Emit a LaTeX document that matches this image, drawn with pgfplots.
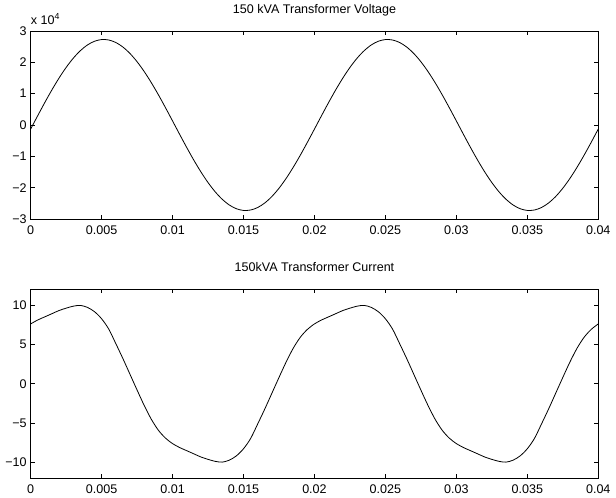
\documentclass[border=0pt]{standalone}
\usepackage{fontspec}
\setmainfont{Liberation Sans}
\usepackage{pgfplots}
\pgfplotsset{compat=1.18}

\pgfplotsset{mfig/.style={
  scale only axis, width=425.7pt,
  xmin=0, xmax=0.04,
  xtick={0,0.005,0.01,0.015,0.02,0.025,0.03,0.035,0.04},
  xticklabels={0,0.005,0.01,0.015,0.02,0.025,0.03,0.035,0.04},
  tick align=inside, major tick length=3pt,
  axis line style={black, line width=0.6pt},
  every tick/.style={black, line width=0.5pt},
  tick label style={font=\fontsize{9.4}{11}\selectfont, inner sep=0pt},
  xticklabel style={yshift=-4.8pt},
  yticklabel style={xshift=-2.8pt},
  title style={font=\fontsize{9.4}{11}\selectfont, at={(0.5,1)}, anchor=base, yshift=7.3pt, inner sep=0pt},
  scaled ticks=false, clip mode=individual,
}}

\begin{document}
\begin{tikzpicture}
\useasboundingbox (0,0) rectangle (462pt,373.5pt);

% voltage
\begin{axis}[mfig, at={(23pt,209.25pt)}, anchor=south west, height=141pt,
  ymin=-30000, ymax=30000,
  ytick={-30000,-20000,-10000,0,10000,20000,30000},
  yticklabels={−3,−2,−1,0,1,2,3},
  title={150 kVA Transformer Voltage}]
\addplot[black, line width=0.6pt, smooth] table {
t v
0 -1286
0.0005 2996
0.001 7204
0.0015 11235
0.002 14988
0.0025 18373
0.003 21305
0.0035 23713
0.004 25536
0.0045 26732
0.005 27270
0.0055 27135
0.006 26334
0.0065 24881
0.007 22817
0.0075 20191
0.008 17068
0.0085 13527
0.009 9651
0.0095 5536
0.01 1286
0.0105 -2996
0.011 -7204
0.0115 -11235
0.012 -14988
0.0125 -18373
0.013 -21305
0.0135 -23713
0.014 -25536
0.0145 -26732
0.015 -27270
0.0155 -27135
0.016 -26334
0.0165 -24881
0.017 -22817
0.0175 -20191
0.018 -17068
0.0185 -13527
0.019 -9651
0.0195 -5536
0.02 -1286
0.0205 2996
0.021 7204
0.0215 11235
0.022 14988
0.0225 18373
0.023 21305
0.0235 23713
0.024 25536
0.0245 26732
0.025 27270
0.0255 27135
0.026 26334
0.0265 24881
0.027 22817
0.0275 20191
0.028 17068
0.0285 13527
0.029 9651
0.0295 5536
0.03 1286
0.0305 -2996
0.031 -7204
0.0315 -11235
0.032 -14988
0.0325 -18373
0.033 -21305
0.0335 -23713
0.034 -25536
0.0345 -26732
0.035 -27270
0.0355 -27135
0.036 -26334
0.0365 -24881
0.037 -22817
0.0375 -20191
0.038 -17068
0.0385 -13527
0.039 -9651
0.0395 -5536
0.04 -1286
};
\node[anchor=base west, inner sep=0pt, font=\fontsize{9.4}{11}\selectfont]
  at (rel axis cs:0,1) [yshift=4.5pt] {x 10\textsuperscript{4}};
\end{axis}

% current
\begin{axis}[mfig, at={(23pt,14.8pt)}, anchor=south west, height=141.75pt,
  ymin=-12, ymax=12,
  ytick={-10,-5,0,5,10},
  yticklabels={−10,−5,0,5,10},
  title={150kVA Transformer Current}]
\addplot[black, line width=0.6pt, smooth] table {
t i
0 7.6
0.0005 8.1
0.001 8.5
0.0015 8.9
0.002 9.3
0.0025 9.6
0.003 9.85
0.0035 9.95
0.004 9.7
0.0045 9.15
0.005 8.25
0.0055 6.95
0.006 5.1
0.0065 3.2
0.007 1.2
0.0075 -0.8
0.008 -2.75
0.0085 -4.5
0.009 -5.9
0.0095 -6.9
0.01 -7.6
0.0105 -8.1
0.011 -8.5
0.0115 -8.9
0.012 -9.3
0.0125 -9.6
0.013 -9.85
0.0135 -9.95
0.014 -9.7
0.0145 -9.15
0.015 -8.25
0.0155 -6.95
0.016 -5.1
0.0165 -3.2
0.017 -1.2
0.0175 0.8
0.018 2.75
0.0185 4.5
0.019 5.9
0.0195 6.9
0.02 7.6
0.0205 8.1
0.021 8.5
0.0215 8.9
0.022 9.3
0.0225 9.6
0.023 9.85
0.0235 9.95
0.024 9.7
0.0245 9.15
0.025 8.25
0.0255 6.95
0.026 5.1
0.0265 3.2
0.027 1.2
0.0275 -0.8
0.028 -2.75
0.0285 -4.5
0.029 -5.9
0.0295 -6.9
0.03 -7.6
0.0305 -8.1
0.031 -8.5
0.0315 -8.9
0.032 -9.3
0.0325 -9.6
0.033 -9.85
0.0335 -9.95
0.034 -9.7
0.0345 -9.15
0.035 -8.25
0.0355 -6.95
0.036 -5.1
0.0365 -3.2
0.037 -1.2
0.0375 0.8
0.038 2.75
0.0385 4.5
0.039 5.9
0.0395 6.9
0.04 7.6
};
\end{axis}
\end{tikzpicture}
\end{document}
